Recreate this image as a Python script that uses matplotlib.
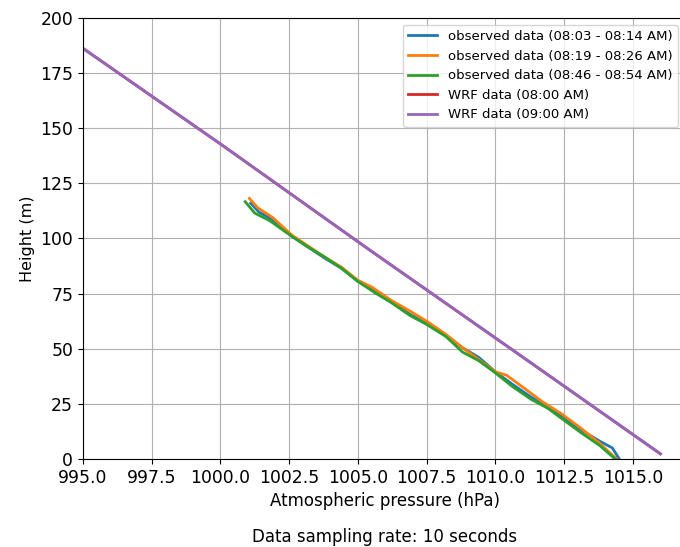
import matplotlib.pyplot as plt

# observed profiles (pressure in hPa, height in m)
obs1_p = [1001.1, 1001.4, 1001.9, 1002.6, 1003.2, 1003.8, 1004.4, 1005.0, 1005.6, 1006.2, 1006.9, 1007.5,
          1008.2, 1008.8, 1009.4, 1010.0, 1010.6, 1011.3, 1011.9, 1012.5, 1013.2, 1013.8, 1014.25, 1014.5]
obs1_h = [116, 112, 108.5, 101, 96, 91, 86.5, 80.5, 76.5, 71.5, 65.5, 61.5,
          56, 50.5, 46, 39.5, 34, 28, 23.5, 18.5, 12.5, 8, 5, 0]

obs2_p = [1001.05, 1001.35, 1001.9, 1002.6, 1003.2, 1003.8, 1004.4, 1005.0, 1005.5, 1006.2, 1006.9, 1007.5,
          1008.2, 1008.8, 1009.4, 1010.0, 1010.4, 1011.0, 1011.7, 1012.4, 1013.1, 1013.8, 1014.4]
obs2_h = [118.2, 114, 109.5, 101.5, 96.5, 91.5, 87, 81, 78, 72, 67, 62.5,
          56.5, 50.5, 45, 39.5, 38, 32.5, 26, 20.5, 14, 7, 0]

obs3_p = [1000.9, 1001.25, 1001.8, 1002.59, 1003.2, 1003.8, 1004.4, 1005.0, 1005.6, 1006.2, 1006.9, 1007.5,
          1008.2, 1008.8, 1009.4, 1010.0, 1010.6, 1011.3, 1011.9, 1012.5, 1013.1, 1013.8, 1014.35]
obs3_h = [116.7, 111.5, 108, 101, 96, 91.5, 86.5, 80.5, 75.5, 71, 65, 61,
          55.5, 48.5, 44.5, 39, 33, 27, 23, 17.5, 12, 6, 0]

# WRF model profiles
wrf08_p = [1016.0, 1010.9, 1005.4, 1000.1, 994.8]
wrf08_h = [2.3, 47, 95, 142, 188]
wrf09_p = [1016.0, 1010.9, 1005.4, 1000.1, 994.8]
wrf09_h = [2.3, 47, 95, 142, 188]

fig = plt.figure(figsize=(6.8, 5.47), dpi=100)
ax = fig.add_axes([0.122, 0.161, 0.8897, 0.806])

ax.plot(obs1_p, obs1_h, color="tab:blue", lw=2, label="observed data (08:03 - 08:14 AM)")
ax.plot(obs2_p, obs2_h, color="tab:orange", lw=2, label="observed data (08:19 - 08:26 AM)")
ax.plot(obs3_p, obs3_h, color="tab:green", lw=2, label="observed data (08:46 - 08:54 AM)")
ax.plot(wrf08_p, wrf08_h, color="tab:red", lw=2, label="WRF data (08:00 AM)")
ax.plot(wrf09_p, wrf09_h, color="tab:purple", lw=2, label="WRF data (09:00 AM)")

ax.set_xlim(995, 1017)
ax.set_ylim(0, 200)
ax.set_xticks([995.0, 997.5, 1000.0, 1002.5, 1005.0, 1007.5, 1010.0, 1012.5, 1015.0])
ax.set_xticklabels(["995.0", "997.5", "1000.0", "1002.5", "1005.0", "1007.5", "1010.0", "1012.5", "1015.0"])
ax.tick_params(labelsize=12.4)
ax.grid(True, color="#b0b0b0", lw=0.8)
ax.set_xlabel("Atmospheric pressure (hPa)", fontsize=12)
ax.set_ylabel("Height (m)", fontsize=11.5)
ax.legend(loc="upper left", bbox_to_anchor=(0.518, 1.0), fontsize=9.5, handlelength=2.2)

fig.text(0.566, 0.018, "Data sampling rate: 10 seconds", ha="center", va="center", fontsize=12)

fig.savefig("out.png", dpi=100)
